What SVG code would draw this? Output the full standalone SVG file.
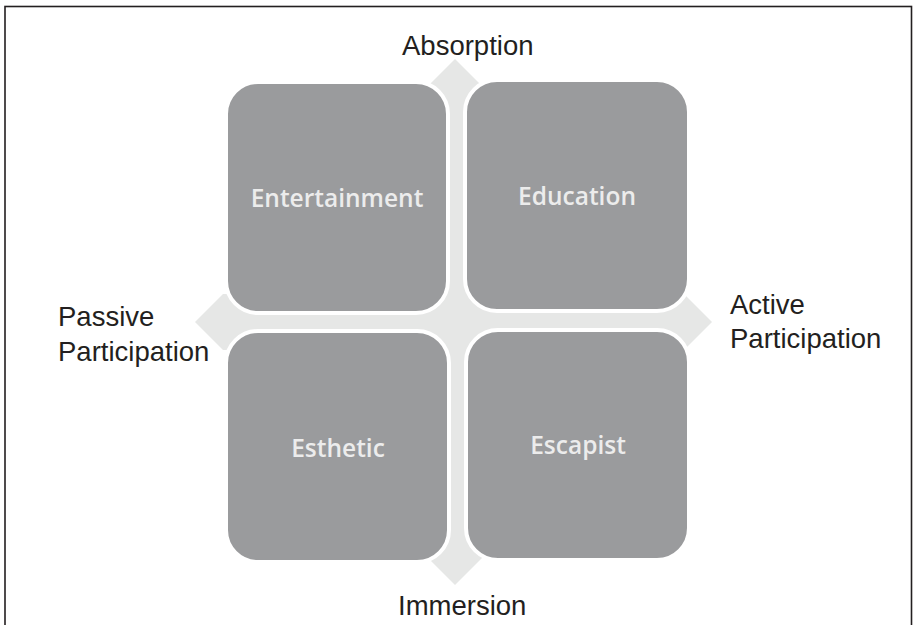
<svg xmlns="http://www.w3.org/2000/svg" width="914" height="625" viewBox="0 0 914 625">
  <style>
    .box { fill: #9a9b9d; stroke: #ffffff; stroke-width: 4; }
    .boxText { font-family: "Open Sans", "Liberation Sans", sans-serif; font-size: 24.5px; font-weight: 600; fill: #ececec; text-anchor: middle; }
    .label { font-family: "Liberation Sans", Arial, sans-serif; font-size: 27.5px; fill: #231f20; }
    .axis { fill: #e6e7e6; }
  </style>
  <rect x="5" y="6.5" width="906.5" height="640" fill="#ffffff" stroke="#231f20" stroke-width="1.6"/>
  <g id="connectors">
    <polygon class="axis" points="195,322 223,294 684,294 712,322 684,350 223,350"/>
    <polygon class="axis" points="455,59 483,87 483,557 455,585 427,557 427,87"/>
  </g>
  <g id="entertainment">
    <rect class="box" x="226" y="82" width="222" height="231" rx="32" ry="32"/>
    <text class="boxText" x="337" y="207">Entertainment</text>
  </g>
  <g id="education">
    <rect class="box" x="465" y="80" width="224" height="231" rx="32" ry="32"/>
    <text class="boxText" x="577" y="205">Education</text>
  </g>
  <g id="esthetic">
    <rect class="box" x="226" y="331" width="223" height="231" rx="32" ry="32"/>
    <text class="boxText" x="338" y="457">Esthetic</text>
  </g>
  <g id="escapist">
    <rect class="box" x="466" y="330" width="223" height="230" rx="32" ry="32"/>
    <text class="boxText" x="578" y="454">Escapist</text>
  </g>
  <g id="absorption">
    <text class="label" x="402" y="55">Absorption</text>
  </g>
  <g id="immersion">
    <text class="label" x="398" y="615">Immersion</text>
  </g>
  <g id="passive-participation">
    <text class="label" x="58" y="326">Passive</text>
    <text class="label" x="58" y="361">Participation</text>
  </g>
  <g id="active-participation">
    <text class="label" x="730" y="314">Active</text>
    <text class="label" x="730" y="348">Participation</text>
  </g>
</svg>
